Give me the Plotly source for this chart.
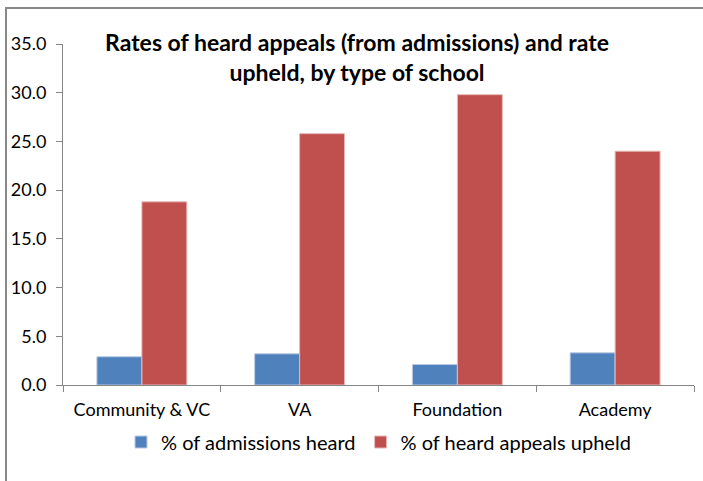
import plotly.graph_objects as go

categories = ["Community & VC", "VA", "Foundation", "Academy"]
admissions_heard = [2.9, 3.2, 2.1, 3.3]
appeals_upheld = [18.8, 25.8, 29.8, 24.0]
series_names = ["% of admissions heard", "% of heard appeals upheld"]
y_ticks = [0, 5, 10, 15, 20, 25, 30, 35]

FONT = "Lato"
W, H = 703, 481
L, R, T, B = 63, 9, 44, 96
pw, ph = W - L - R, H - T - B

def px_x(x):
    return (x - L) / pw

def px_y(y):
    return (H - B - y) / ph

fig = go.Figure()
fig.add_trace(go.Bar(x=categories, y=admissions_heard, name=series_names[0],
                     marker=dict(color="#4F81BD", line=dict(color="#B9C9E3", width=1))))
fig.add_trace(go.Bar(x=categories, y=appeals_upheld, name=series_names[1],
                     marker=dict(color="#C0504D", line=dict(color="#E6B9B8", width=1))))

fig.update_layout(
    width=W, height=H,
    margin=dict(l=L, r=R, t=T, b=B, pad=0),
    paper_bgcolor="white", plot_bgcolor="white",
    barmode="group", bargap=0.43, bargroupgap=0,
    font=dict(family=FONT, size=16, color="#000000"),
    title=dict(text="Rates of heard appeals (from admissions) and rate<br>upheld, by type of school",
               x=357 / W, xanchor="center", y=1 - 51 / H, yanchor="top",
               font=dict(family=FONT, size=23, color="#000000", weight="bold")),
    showlegend=True,
    legend=dict(orientation="h", x=0.5, xanchor="center", y=px_y(442), yanchor="middle",
                font=dict(family=FONT, size=20, color="#000000"),
                itemwidth=30, traceorder="normal"),
    xaxis=dict(showline=True, linecolor="#868686", linewidth=1, ticks="outside",
               tickson="boundaries", ticklen=6, tickcolor="#868686", showgrid=False,
               ticklabelstandoff=8,
               tickfont=dict(family=FONT, size=18, color="#000000")),
    yaxis=dict(range=[0, 35], tickvals=y_ticks, tickformat=".1f", showline=True,
               linecolor="#868686", linewidth=1, ticks="outside", ticklen=6,
               tickcolor="#868686", showgrid=False, zeroline=False,
               ticklabelstandoff=6,
               tickfont=dict(family=FONT, size=18, color="#000000")),
    shapes=[
        dict(type="rect", xref="paper", yref="paper", x0=px_x(6), x1=px_x(730),
             y0=px_y(520), y1=px_y(8), fillcolor="rgba(0,0,0,0)",
             line=dict(color="#888888", width=2), layer="above"),
    ],
)

fig.write_html("out.html", config={"displayModeBar": False},
               post_script="document.body.style.margin='0';document.body.style.overflow='hidden';")
